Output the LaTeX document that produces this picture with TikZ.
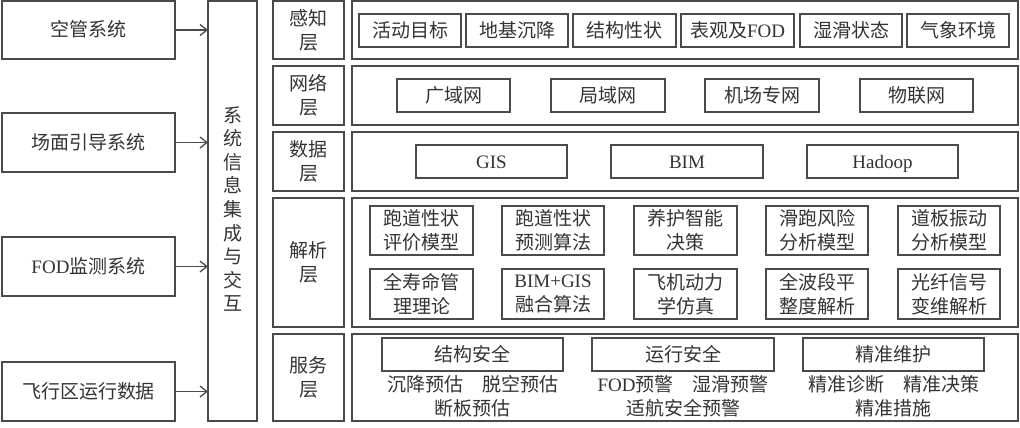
\documentclass[tikz,border=0pt]{standalone}
\usepackage{fontspec}
\setmainfont{Noto Sans CJK SC}
\newfontfamily\lat{Liberation Serif}
\usetikzlibrary{arrows.meta}
\definecolor{ln}{HTML}{4A4A4A}
\definecolor{tx}{HTML}{333333}
\tikzset{
  bx/.style={draw=ln, line width=1.3pt, inner sep=0pt, outer sep=0pt, text=tx,
    font=\fontsize{19}{24}\selectfont, align=center},
  onel/.style={text height=16pt, text depth=2pt},
  tt/.style={inner sep=0pt, outer sep=0pt, text=tx, font=\fontsize{19}{24}\selectfont, align=center},
  arr/.style={draw=ln, line width=1.3pt, -{Straight Barb[length=7pt,width=11pt,line width=1.3pt]}}
}
\begin{document}
\begin{tikzpicture}[x=1pt,y=-1pt]
\useasboundingbox (0,0) rectangle (1020,428);
% left systems
\node[bx, onel, minimum width=173, minimum height=58] (s1) at (88.5,30) {空管系统};
\node[bx, onel, minimum width=173, minimum height=59] (s2) at (88.5,142.5) {场面引导系统};
\node[bx, onel, minimum width=173, minimum height=59] (s3) at (88.5,266.5) {{\lat FOD}监测系统};
\node[bx, onel, minimum width=173, minimum height=59] (s4) at (88.5,391.5) {飞行区运行数据};
% integration
\node[bx, minimum width=49, minimum height=420] (int) at (232.5,211) {};
\node[tt, font=\fontsize{19}{23.6}\selectfont] (intt) at (232.5,209) {系\\统\\信\\息\\集\\成\\与\\交\\互};
\draw[arr] (s1.east) -- (s1.east -| int.west);
\draw[arr] (s2.east) -- (s2.east -| int.west);
\draw[arr] (s3.east) -- (s3.east -| int.west);
\draw[arr] (s4.east) -- (s4.east -| int.west);
% layer labels
\node[bx, minimum width=71, minimum height=58] (l1) at (308.5,30) {感知\\层};
\node[bx, minimum width=71, minimum height=59] (l2) at (308.5,95.5) {网络\\层};
\node[bx, minimum width=71, minimum height=59] (l3) at (308.5,161.5) {数据\\层};
\node[bx, minimum width=71, minimum height=129] (l4) at (308.5,262.5) {解析\\层};
\node[bx, minimum width=71, minimum height=87] (l5) at (308.5,377.5) {服务\\层};
% content frames
\node[bx, minimum width=666, minimum height=58] (c1) at (685,30) {};
\node[bx, minimum width=666, minimum height=59] (c2) at (685,95.5) {};
\node[bx, minimum width=666, minimum height=59] (c3) at (685,161.5) {};
\node[bx, minimum width=666, minimum height=129] (c4) at (685,262.5) {};
\node[bx, minimum width=666, minimum height=87] (c5) at (685,377.5) {};
% perception
\node[bx, onel, minimum width=102, minimum height=33] (p1) at (410,30.5) {活动目标};
\node[bx, onel, minimum width=102, minimum height=33] (p2) at (517,30.5) {地基沉降};
\node[bx, onel, minimum width=103, minimum height=33] (p3) at (624.5,30.5) {结构性状};
\node[bx, onel, minimum width=113, minimum height=33] (p4) at (737.5,30.5) {表观及{\lat FOD}};
\node[bx, onel, minimum width=102, minimum height=33] (p5) at (851,30.5) {湿滑状态};
\node[bx, onel, minimum width=102, minimum height=33] (p6) at (958,30.5) {气象环境};
% network
\node[bx, onel, minimum width=113, minimum height=33] (n1) at (453.5,95.5) {广域网};
\node[bx, onel, minimum width=114, minimum height=33] (n2) at (608,95.5) {局域网};
\node[bx, onel, minimum width=114, minimum height=33] (n3) at (762,95.5) {机场专网};
\node[bx, onel, minimum width=113, minimum height=33] (n4) at (916.5,95.5) {物联网};
% data
\node[bx, onel, minimum width=151, minimum height=33, font=\lat\fontsize{19}{24}\selectfont] (d1) at (491.5,161.5) {GIS};
\node[bx, onel, minimum width=152, minimum height=33, font=\lat\fontsize{19}{24}\selectfont] (d2) at (687,161.5) {BIM};
\node[bx, onel, minimum width=151, minimum height=33, font=\lat\fontsize{19}{24}\selectfont] (d3) at (882.5,161.5) {Hadoop};
% analysis
\node[bx, minimum width=103, minimum height=49] (a1) at (421.5,230.5) {跑道性状\\评价模型};
\node[bx, minimum width=102, minimum height=49] (a2) at (553,230.5) {跑道性状\\预测算法};
\node[bx, minimum width=103, minimum height=49] (a3) at (685.5,230.5) {养护智能\\决策};
\node[bx, minimum width=102, minimum height=49] (a4) at (817,230.5) {滑跑风险\\分析模型};
\node[bx, minimum width=102, minimum height=49] (a5) at (949,230.5) {道板振动\\分析模型};
\node[bx, minimum width=103, minimum height=50] (b1) at (421.5,294) {全寿命管\\理理论};
\node[bx, minimum width=102, minimum height=50] (b2) at (553,294) {{\lat BIM+GIS}\\融合算法};
\node[bx, minimum width=103, minimum height=50] (b3) at (685.5,294) {飞机动力\\学仿真};
\node[bx, minimum width=102, minimum height=50] (b4) at (817,294) {全波段平\\整度解析};
\node[bx, minimum width=102, minimum height=50] (b5) at (949,294) {光纤信号\\变维解析};
% service
\node[bx, onel, minimum width=181, minimum height=33] (v1) at (472.5,354.5) {结构安全};
\node[bx, onel, minimum width=182, minimum height=33] (v2) at (683,354.5) {运行安全};
\node[bx, onel, minimum width=181, minimum height=33] (v3) at (893.5,354.5) {精准维护};
\node[tt] (v1t) at (472.5,396) {沉降预估\hspace{1em}脱空预估\\断板预估};
\node[tt] (v2t) at (683,396) {{\lat FOD}预警\hspace{1em}湿滑预警\\适航安全预警};
\node[tt] (v3t) at (893.5,396) {精准诊断\hspace{1em}精准决策\\精准措施};
\end{tikzpicture}
\end{document}
